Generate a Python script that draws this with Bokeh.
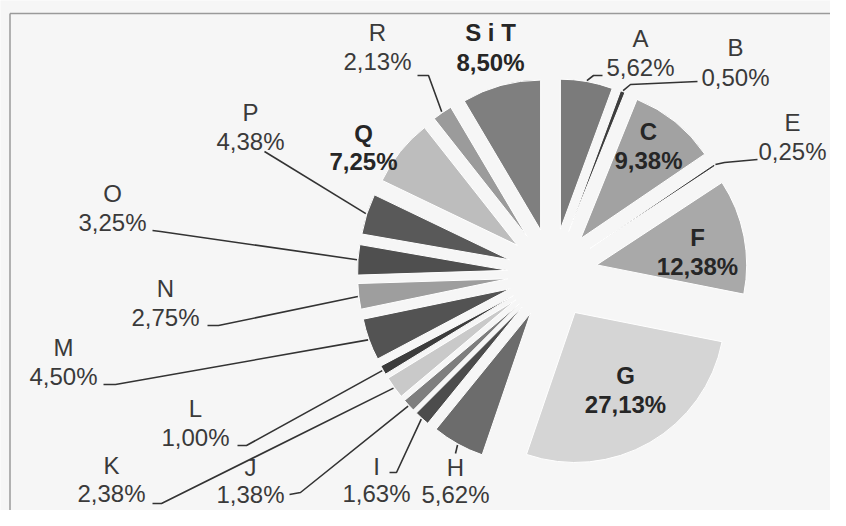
import math
from bokeh.plotting import figure
from bokeh.models import Range1d, ColumnDataSource
from bokeh.core.properties import value
from bokeh.embed import file_html
from bokeh.resources import INLINE

# ---------------- data ----------------
categories = ["A", "B", "C", "E", "F", "G", "H", "I", "J", "K",
              "L", "M", "N", "O", "P", "Q", "R", "S i T"]
shares = [5.62, 0.50, 9.38, 0.25, 12.38, 27.13, 5.62, 1.63, 1.38, 2.38,
          1.00, 4.50, 2.75, 3.25, 4.38, 7.25, 2.13, 8.50]
share_labels = [f"{v:.2f}".replace(".", ",") + "%" for v in shares]

# ---------------- style ----------------
slice_colors = ["#7b7b7b", "#3e3e3e", "#a2a2a2", "#454545", "#a9a9a9", "#d5d5d5",
                "#6c6c6c", "#4c4c4c", "#7e7e7e", "#c9c9c9", "#3c3c3c", "#535353",
                "#9e9e9e", "#4f4f4f", "#595959", "#bdbdbd", "#9b9b9b", "#7f7f7f"]
bold_labels = {"C", "F", "G", "Q", "S i T"}
FONT = "Liberation Sans"
FONT_SIZE = "24px"

# ---------------- layout (picture pixels) ----------------
W, H = 830, 510
CX, CY = 552, 273
R_PIE = 150
EXPLODE = 45

# label centre x, first line y, second line y
label_pos = {
    "A": (640, 38, 67), "B": (735, 47, 77), "C": (648, 131, 160),
    "E": (792, 122, 151), "F": (697, 237, 266), "G": (625, 375, 404),
    "H": (455, 467, 494), "I": (376, 466, 493), "J": (250, 467, 494),
    "K": (111, 465, 493), "L": (195, 408, 437), "M": (63, 347, 376),
    "N": (165, 288, 317), "O": (112, 193, 222), "P": (250, 112, 141),
    "Q": (363, 133, 161), "R": (377, 32, 61), "S i T": (490, 32, 62),
}
# leader lines: intermediate / end points, start is computed from the slice
leader_via = {
    "A": [(593, 75), (602, 75)],
    "B": [(630, 84), (697, 81)],
    "E": [(724, 162), (757, 159)],
    "H": [(455, 453)],
    "I": [(396, 472), (389, 472)],
    "J": [(300, 492), (289, 494)],
    "K": [(161, 503), (152, 503)],
    "L": [(246, 445), (237, 445)],
    "M": [(115, 384), (103, 384)],
    "N": [(218, 325), (207, 325)],
    "O": [(160, 231), (152, 230)],
    "P": [(264, 151)],
    "R": [(428, 75), (417, 75)],
}

# ---------------- geometry from data ----------------
total = sum(shares)
xs, ys, starts, ends, mids = [], [], [], [], []
cum = 0.0
for v in shares:
    t1 = cum / total * 360.0
    cum += v
    t2 = cum / total * 360.0
    tm = (t1 + t2) / 2.0
    phi_m = math.radians(90 - tm)
    xs.append(CX + EXPLODE * math.cos(phi_m))
    ys.append(-CY + EXPLODE * math.sin(phi_m))
    starts.append(math.radians(90 - t1))
    ends.append(math.radians(90 - t2))
    mids.append(phi_m)

p = figure(width=W, height=H, output_backend="svg", toolbar_location=None,
           x_range=Range1d(0, W), y_range=Range1d(-H, 0),
           min_border=0, background_fill_color="#f6f6f6",
           border_fill_color="#f6f6f6", outline_line_color=None)
p.axis.visible = False
p.xgrid.visible = False
p.ygrid.visible = False

# frame (top and left edges visible in the reference)
p.segment(x0=[9.5, 9.5], y0=[-13, -13], x1=[W, 9.5], y1=[-13, -H],
          line_color="#9a9a9a", line_width=1.5)

src = ColumnDataSource(dict(x=xs, y=ys, start=starts, end=ends, color=slice_colors))
p.wedge(x="x", y="y", radius=R_PIE, start_angle="start", end_angle="end",
        direction="clock", fill_color="color", line_color="white", line_width=1,
        source=src)

# leader lines
for i, cat in enumerate(categories):
    if cat not in leader_via:
        continue
    rr = EXPLODE + R_PIE + 1
    sx = CX + rr * math.cos(mids[i])
    sy = -CY + rr * math.sin(mids[i])
    px = [sx] + [pt[0] for pt in leader_via[cat]]
    py = [sy] + [-pt[1] for pt in leader_via[cat]]
    p.line(px, py, line_color="#333333", line_width=1.6)

# labels
for i, cat in enumerate(categories):
    lx, ly1, ly2 = label_pos[cat]
    isb = cat in bold_labels
    col = "#262626" if isb else "#3a3a3a"
    style = "bold" if isb else "normal"
    p.text(x=[lx, lx], y=[-ly1, -ly2], text=[cat, share_labels[i]],
           text_align="center", text_baseline="middle",
           text_font=value(FONT), text_font_size=FONT_SIZE,
           text_font_style=style, text_color=col)

open("out.html", "w").write(file_html(p, INLINE))
